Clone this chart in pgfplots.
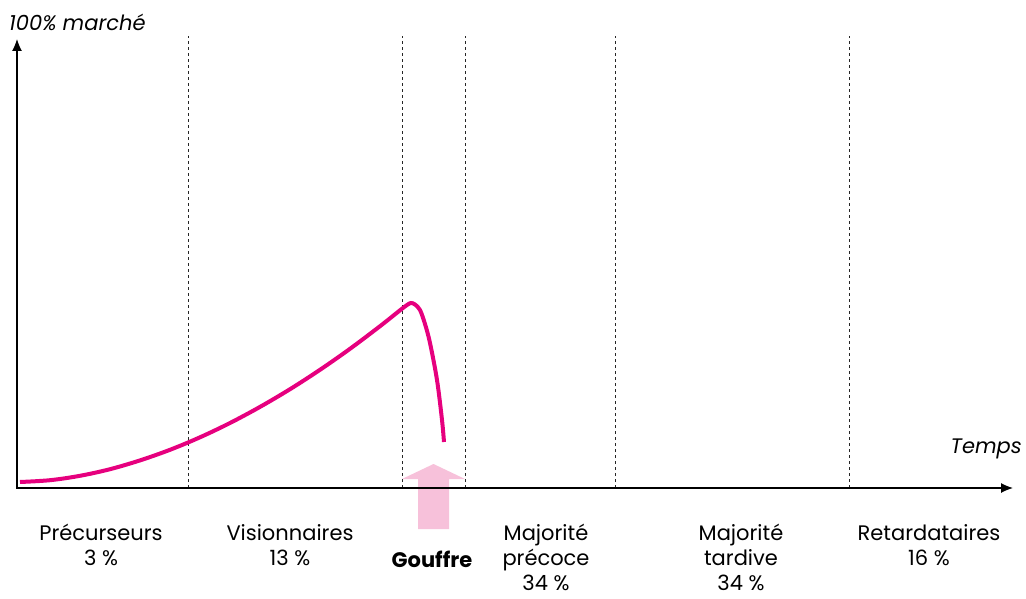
\documentclass[border=0pt]{standalone}
\usepackage{fontspec}
\setmainfont{Poppins}
\usepackage{pgfplots}
\pgfplotsset{compat=1.18}
\usetikzlibrary{arrows.meta}
\definecolor{Mag}{HTML}{E6007E}
\definecolor{Gulf}{HTML}{F7C1DA}

\tikzset{lbl/.style={font=\fontsize{21}{25}\selectfont, align=center, inner sep=0pt}}

\begin{document}
\begin{tikzpicture}
\begin{axis}[
  width=1026pt, height=598pt, scale only axis,
  xmin=0, xmax=1026, ymin=0, ymax=598,
  axis lines=none, ticks=none, clip=false,
]
  % page frame (invisible)
  \addplot[draw=none] coordinates {(0,0) (1026,598)};
  % gouffre arrow
  \addplot[fill=Gulf, draw=none] coordinates {
    (418,69) (418,119) (402,119) (433.5,134) (465,119) (449,119) (449,69) } -- cycle;
  % phase boundaries
  \addplot[black!85, dashed, line width=1pt] coordinates {(188,110) (188,562)};
  \addplot[black!85, dashed, line width=1pt] coordinates {(402,110) (402,562)};
  \addplot[black!85, dashed, line width=1pt] coordinates {(465,110) (465,562)};
  \addplot[black!85, dashed, line width=1pt] coordinates {(615,110) (615,562)};
  \addplot[black!85, dashed, line width=1pt] coordinates {(849,110) (849,562)};
  % axes
  \addplot[black, line width=1.2pt, -{Latex[length=12pt,width=10pt]}] coordinates {(16,110) (1013,110)};
  \addplot[black, line width=1.2pt, -{Latex[length=12pt,width=10pt]}] coordinates {(17,110) (17,559)};
  % adoption curve
  \addplot[Mag, line width=4pt, smooth, tension=0.55] coordinates {
    (20,116) (50,117.8) (80,122.2) (110,128.8) (140,137.6) (170,148.2)
    (200,160.7) (230,175) (260,191.1) (290,208.8) (320,228.2) (350,249.2)
    (380,271.8) (400,287.7) (407,293) (411,295) (415,293.5) (420,288)
    (425,274) (430,255) (437,218) (442,178) (444,156)};
  % labels
  \node[lbl, anchor=base west, font=\fontsize{21}{25}\selectfont\itshape] at (axis cs:9,567) {100\% marché};
  \node[lbl, anchor=base east, font=\fontsize{21}{25}\selectfont\itshape] at (axis cs:1022,145) {Temps};
  \node[lbl, anchor=north] at (axis cs:101,74) {Précurseurs\\3 \%};
  \node[lbl, anchor=north] at (axis cs:290,74) {Visionnaires\\13 \%};
  \node[lbl, anchor=north, font=\fontsize{21}{25}\selectfont\bfseries] at (axis cs:432,47) {Gouffre};
  \node[lbl, anchor=north] at (axis cs:546,74) {Majorité\\précoce\\34 \%};
  \node[lbl, anchor=north] at (axis cs:741,74) {Majorité\\tardive\\34 \%};
  \node[lbl, anchor=north] at (axis cs:929,74) {Retardataires\\16 \%};
\end{axis}
\end{tikzpicture}
\end{document}
